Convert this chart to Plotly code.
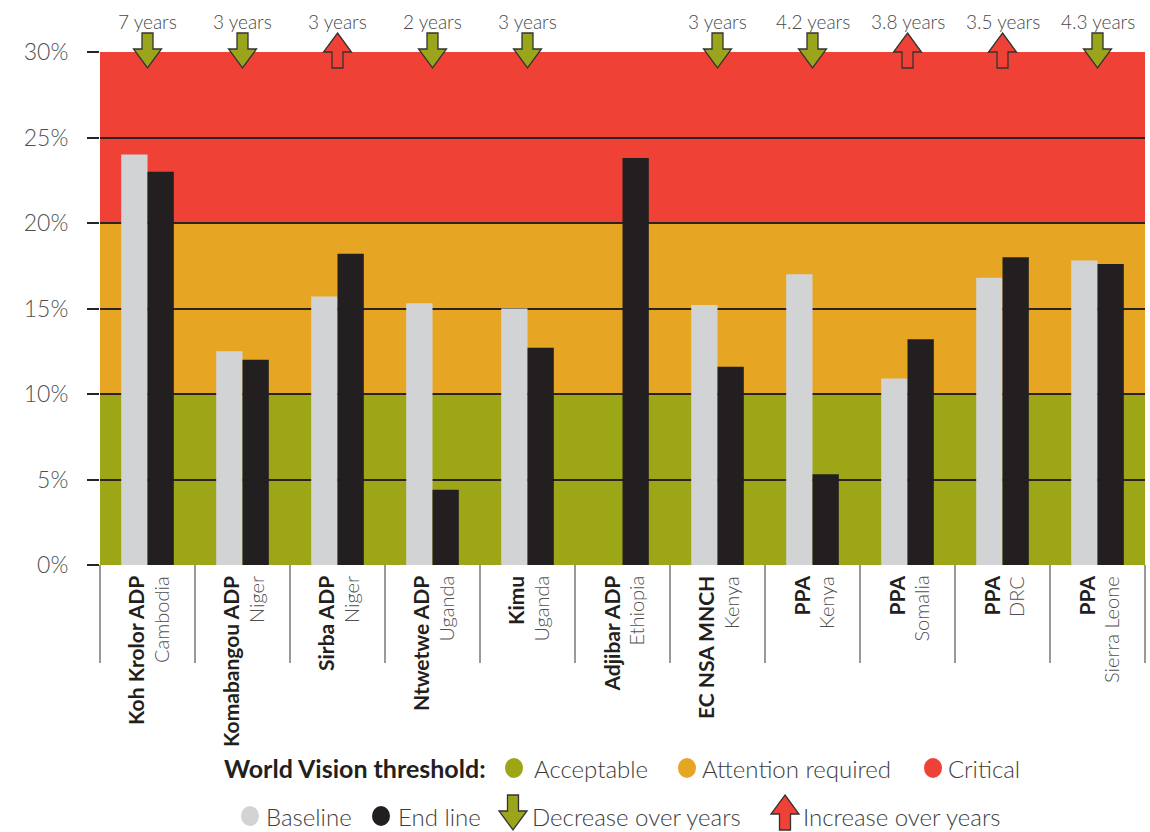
import plotly.graph_objects as go

# ---------------- data ----------------
projects = ["Koh Krolor ADP", "Komabangou ADP", "Sirba ADP", "Ntwetwe ADP", "Kimu",
            "Adjibar ADP", "EC NSA MNCH", "PPA", "PPA", "PPA", "PPA"]
countries = ["Cambodia", "Niger", "Niger", "Uganda", "Uganda", "Ethiopia",
             "Kenya", "Kenya", "Somalia", "DRC", "Sierra Leone"]
baseline = [24.0, 12.5, 15.7, 15.3, 15.0, None, 15.2, 17.0, 10.9, 16.8, 17.8]
endline = [23.0, 12.0, 18.2, 4.4, 12.7, 23.8, 11.6, 5.3, 13.2, 18.0, 17.6]
years = ["7 years", "3 years", "3 years", "2 years", "3 years", "",
         "3 years", "4.2 years", "3.8 years", "3.5 years", "4.3 years"]
direction = ["down", "down", "up", "down", "down", None,
             "down", "down", "up", "up", "down"]
tick_vals = [0, 5, 10, 15, 20, 25, 30]
tick_text = ["0%", "5%", "10%", "15%", "20%", "25%", "30%"]
bands = [(0, 10, "Acceptable"), (10, 20, "Attention required"), (20, 30, "Critical")]

# ---------------- style ----------------
FONT = "Lato"
GREEN = "#9DA616"
ORANGE = "#E6A624"
RED = "#EF4136"
GREY = "#D1D3D4"
BLACK = "#231F20"
ARROW_GREEN = "#9BA51B"
TXT = "#4a4a4a"
band_colors = {"Acceptable": GREEN, "Attention required": ORANGE, "Critical": RED}

W, H = 1150, 832
L, R, T, B = 100, 5, 52, 267
PW, PH = W - L - R, H - T - B


def px(xp):
    return (xp - L) / PW


def py(yp):
    return (H - B - yp) / PH


n = len(projects)
xs = list(range(n))

fig = go.Figure()
fig.add_trace(go.Bar(x=xs, y=baseline, name="Baseline", marker=dict(color=GREY, line=dict(width=0))))
fig.add_trace(go.Bar(x=xs, y=endline, name="End line", marker=dict(color=BLACK, line=dict(width=0))))

shapes = []
annotations = []

# background threshold bands
for y0, y1, nm in bands:
    shapes.append(dict(type="rect", xref="paper", yref="y", x0=0, x1=1, y0=y0, y1=y1,
                       fillcolor=band_colors[nm], line=dict(width=0), layer="below"))

DOWN = "M -5.5 19 L 5.5 19 L 5.5 3 L 14 3 L 0 -16 L -14 3 L -5.5 3 Z"
UP = "M 0 19 L 14 0 L 5.5 0 L 5.5 -16 L -5.5 -16 L -5.5 0 L -14 0 Z"

# arrows and year labels above plot
for i in range(n):
    if direction[i]:
        shapes.append(dict(type="path", xref="x", yref="paper", xsizemode="pixel", ysizemode="pixel",
                           xanchor=xs[i], yanchor=1,
                           path=DOWN if direction[i] == "down" else UP,
                           fillcolor=ARROW_GREEN if direction[i] == "down" else RED,
                           line=dict(color="#333333", width=1.3), layer="above"))
    if years[i]:
        annotations.append(dict(x=xs[i], y=1, xref="x", yref="paper", text=years[i],
                                showarrow=False, yshift=31, yanchor="middle",
                                font=dict(family=FONT, size=19, color=TXT, weight=300)))

# category separators
for i in range(n + 1):
    shapes.append(dict(type="line", xref="paper", yref="paper", ysizemode="pixel", yanchor=0,
                       x0=i / n, x1=i / n, y0=0, y1=-98,
                       line=dict(color="#777777", width=1.5)))

# category labels
for i in range(n):
    annotations.append(dict(x=xs[i], y=0, xref="x", yref="paper", text="<b>" + projects[i] + "</b>",
                            textangle=-90, showarrow=False, xanchor="center", yanchor="top",
                            xshift=-12, yshift=-9,
                            font=dict(family=FONT, size=21, color=BLACK)))
    annotations.append(dict(x=xs[i], y=0, xref="x", yref="paper", text=countries[i],
                            textangle=-90, showarrow=False, xanchor="center", yanchor="top",
                            xshift=13, yshift=-9,
                            font=dict(family=FONT, size=20, color="#505050", weight=300)))

# legend row 1
LFONT = dict(family=FONT, size=24, color="#3d3d3d", weight=300)
annotations.append(dict(x=px(222), y=py(768), xref="paper", yref="paper", xanchor="left", yanchor="middle",
                        text="<b>World Vision threshold:</b>", showarrow=False,
                        font=dict(family=FONT, size=25, color=BLACK)))
leg1 = [(514, 532, "Acceptable", GREEN), (687, 700, "Attention required", ORANGE), (933, 946, "Critical", RED)]
for cx, tx, label, col in leg1:
    shapes.append(dict(type="circle", xref="paper", yref="paper", xsizemode="pixel", ysizemode="pixel",
                       xanchor=px(cx), yanchor=py(768), x0=-9, x1=9, y0=-10, y1=10,
                       fillcolor=col, line=dict(width=0)))
    annotations.append(dict(x=px(tx), y=py(768), xref="paper", yref="paper", xanchor="left", yanchor="middle",
                            text=label, showarrow=False, font=LFONT))

# legend row 2
leg2 = [(250, 264, "Baseline", GREY), (381, 396, "End line", BLACK)]
for cx, tx, label, col in leg2:
    shapes.append(dict(type="circle", xref="paper", yref="paper", xsizemode="pixel", ysizemode="pixel",
                       xanchor=px(cx), yanchor=py(816), x0=-9, x1=9, y0=-10, y1=10,
                       fillcolor=col, line=dict(width=0)))
    annotations.append(dict(x=px(tx), y=py(816), xref="paper", yref="paper", xanchor="left", yanchor="middle",
                            text=label, showarrow=False, font=LFONT))
shapes.append(dict(type="path", xref="paper", yref="paper", xsizemode="pixel", ysizemode="pixel",
                   xanchor=px(513), yanchor=py(814), path=DOWN, fillcolor=ARROW_GREEN,
                   line=dict(color="#333333", width=1.3)))
annotations.append(dict(x=px(530), y=py(816), xref="paper", yref="paper", xanchor="left", yanchor="middle",
                        text="Decrease over years", showarrow=False, font=LFONT))
shapes.append(dict(type="path", xref="paper", yref="paper", xsizemode="pixel", ysizemode="pixel",
                   xanchor=px(785), yanchor=py(814), path=UP, fillcolor=RED,
                   line=dict(color="#333333", width=1.3)))
annotations.append(dict(x=px(801), y=py(816), xref="paper", yref="paper", xanchor="left", yanchor="middle",
                        text="Increase over years", showarrow=False, font=LFONT))

fig.update_layout(
    width=W, height=H,
    margin=dict(l=L, r=R, t=T, b=B, pad=0),
    paper_bgcolor="white", plot_bgcolor="white",
    barmode="group", bargap=0.446, bargroupgap=0,
    showlegend=False,
    shapes=shapes, annotations=annotations,
    font=dict(family=FONT),
    xaxis=dict(range=[-0.5, n - 0.5], showticklabels=False, showgrid=False, zeroline=False,
               ticks="", showline=False, fixedrange=True),
    yaxis=dict(range=[0, 30], tickvals=tick_vals, ticktext=tick_text, showgrid=True,
               gridcolor="#2b2320", gridwidth=1.5, zeroline=False, ticks="outside", ticklen=12,
               tickcolor="#2b2320", tickwidth=1.5, ticklabelstandoff=14,
               tickfont=dict(family=FONT, size=23, color="#505050", weight=300), showline=False,
               fixedrange=True),
)

fig.write_html("out.html")
